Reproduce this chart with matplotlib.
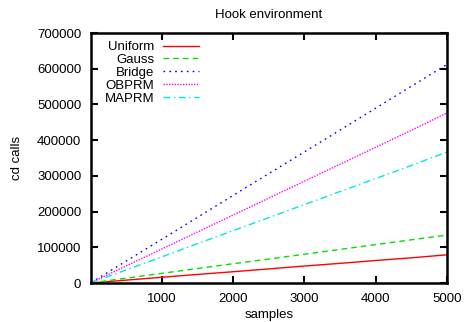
import numpy as np
import matplotlib.pyplot as plt

plt.rcParams['font.family'] = ['Liberation Sans', 'DejaVu Sans']

# samples and cd calls
samples = [10, 500, 1000, 1500, 2000, 2500, 3000, 3500, 4000, 4500, 5000]
uniform = [160, 8000, 16000, 24000, 31500, 39500, 47500, 55000, 63000, 70500, 79000]
gauss = [270, 13500, 27000, 40500, 54000, 67000, 80500, 94000, 107500, 121000, 134000]
bridge = [1200, 61000, 122000, 183500, 245000, 306000, 367000, 428000, 489500, 551000, 612000]
obprm = [950, 47500, 95000, 142500, 190000, 237500, 285000, 332500, 380000, 427500, 476000]
maprm = [730, 36500, 73000, 110000, 146500, 183000, 219500, 256000, 292500, 329000, 367000]

names = ["Uniform", "Gauss", "Bridge", "OBPRM", "MAPRM"]
colors = ["#ff0000", "#00e000", "#0000ff", "#ff00ff", "#00e5e5"]
styles = ["-", (0, (4, 3)), (0, (1.2, 3)), (0, (1, 1)), (0, (5, 2.5, 1, 2.5))]

fig = plt.figure(figsize=(4.65, 3.22), dpi=100)
ax = fig.add_axes([0.1957, 0.1211, 0.7656, 0.7764])

for name, ys, c, ls in zip(names, [uniform, gauss, bridge, obprm, maprm], colors, styles):
    ax.plot(samples, ys, color=c, linestyle=ls, linewidth=1.0, label=name)

ax.set_xlim(10, 5000)
ax.set_ylim(0, 700000)
ax.set_xticks([1000, 2000, 3000, 4000, 5000])
ax.set_yticks(np.arange(0, 700001, 100000))
ax.tick_params(direction='in', top=True, right=True, length=5, width=1.5,
               labelsize=9.5, pad=7)
for sp in ax.spines.values():
    sp.set_linewidth(1.8)

ax.set_title("Hook environment", fontsize=9.5, pad=11)
ax.set_xlabel("samples", fontsize=9.5, labelpad=3)
ax.set_ylabel("cd calls", fontsize=9.5, labelpad=10)

ax.legend(loc='upper left', frameon=False, markerfirst=False, fontsize=9.5,
          handlelength=2.8, handletextpad=0.6, labelspacing=0.05,
          borderaxespad=0.2, bbox_to_anchor=(0.017, 1.0))

fig.savefig("out.png", dpi=100)
